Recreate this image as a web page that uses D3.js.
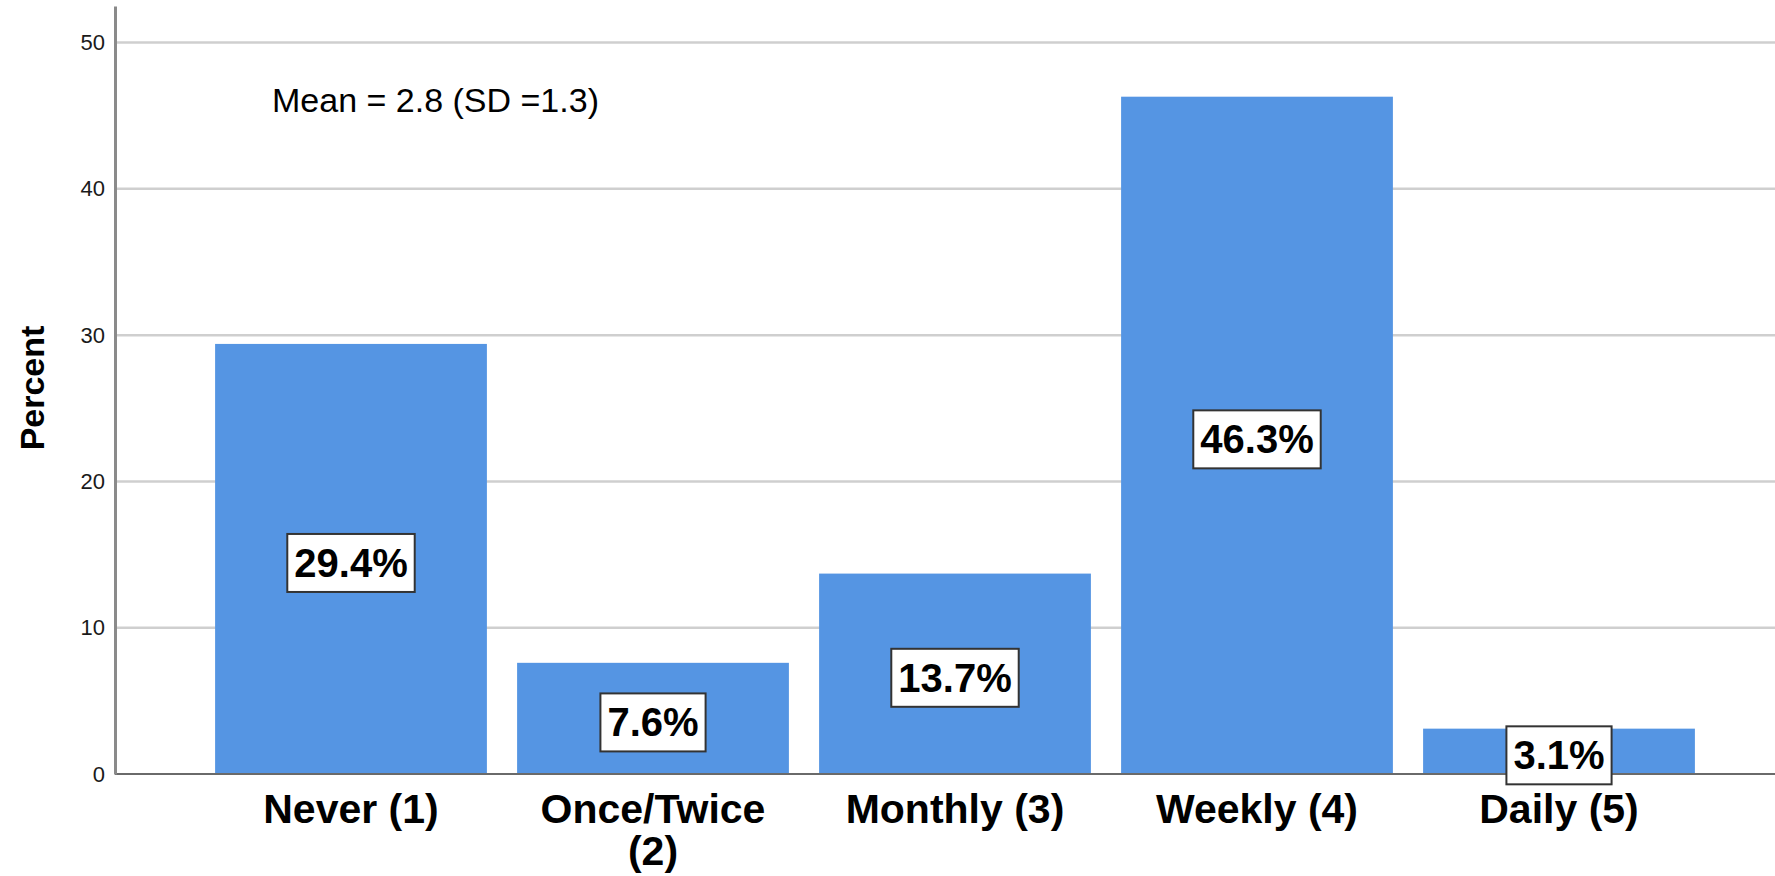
<!DOCTYPE html>
<html>
<head>
<meta charset="utf-8">
<script src="https://cdn.jsdelivr.net/npm/d3@7"></script>
<style>
  html, body { margin: 0; padding: 0; background: #fff; }
  svg { display: block; font-family: "Liberation Sans", Arial, sans-serif; }
</style>
</head>
<body>
<svg id="chart" width="1775" height="876"></svg>
<script>
// Frequency of the behaviour, percent of respondents per response category
const categories = ["Never (1)", "Once/Twice (2)", "Monthly (3)", "Weekly (4)", "Daily (5)"];
const percents = [29.4, 7.6, 13.7, 46.3, 3.1];
const yTicks = [0, 10, 20, 30, 40, 50];
const yTitle = "Percent";
const summaryText = "Mean = 2.8 (SD =1.3)";

const svg = d3.select("#chart");
const W = 1775;
const axisX = 115, baseY = 774, topY = 6;

const x = d3.scaleBand()
  .domain(categories)
  .range([200, 1710])
  .paddingInner(0.1)
  .paddingOuter(0.05);

const y = d3.scaleLinear()
  .domain([0, 52.5])
  .range([baseY, topY]);

// horizontal gridlines
svg.append("g")
  .selectAll("line")
  .data(yTicks.filter(d => d > 0))
  .join("line")
  .attr("x1", axisX)
  .attr("x2", W)
  .attr("y1", d => y(d))
  .attr("y2", d => y(d))
  .attr("stroke", "#cfcfcf")
  .attr("stroke-width", 2.5);

// bars
svg.append("g")
  .selectAll("rect")
  .data(categories)
  .join("rect")
  .attr("x", d => x(d))
  .attr("width", x.bandwidth())
  .attr("y", (d, i) => y(percents[i]))
  .attr("height", (d, i) => y(0) - y(percents[i]))
  .attr("fill", "#5595e3");

// x baseline
svg.append("line")
  .attr("x1", axisX).attr("x2", W)
  .attr("y1", y(0)).attr("y2", y(0))
  .attr("stroke", "#6a6a6a")
  .attr("stroke-width", 2);

// y axis
const yAxis = svg.append("g")
  .attr("transform", `translate(${axisX},0)`)
  .call(d3.axisLeft(y).tickValues(yTicks).tickSize(0).tickPadding(10).tickFormat(d3.format("d")));
yAxis.select(".domain")
  .attr("stroke", "#8a8a8a")
  .attr("stroke-width", 3);
yAxis.selectAll(".tick text")
  .attr("font-family", "Liberation Sans, Arial, sans-serif")
  .attr("font-size", 22)
  .attr("fill", "#1a1a1a");

// y axis title
svg.append("text")
  .attr("transform", "translate(32,388) rotate(-90)")
  .attr("text-anchor", "middle")
  .attr("dominant-baseline", "central")
  .attr("font-size", 34)
  .attr("font-weight", "bold")
  .attr("fill", "#000")
  .text(yTitle);

// category labels, wrapped when wider than a bar
const xLabels = svg.append("g")
  .selectAll("text")
  .data(categories)
  .join("text")
  .attr("x", d => x(d) + x.bandwidth() / 2)
  .attr("y", 823)
  .attr("text-anchor", "middle")
  .attr("font-size", 41)
  .attr("font-weight", "bold")
  .attr("fill", "#000");

xLabels.each(function(d) {
  const t = d3.select(this);
  const cx = +t.attr("x");
  const words = d.split(" ");
  let line = [];
  let tspan = t.append("tspan").attr("x", cx).attr("dy", 0);
  for (const w of words) {
    line.push(w);
    tspan.text(line.join(" "));
    if (tspan.node().getComputedTextLength() > x.bandwidth() && line.length > 1) {
      line.pop();
      tspan.text(line.join(" "));
      line = [w];
      tspan = t.append("tspan").attr("x", cx).attr("dy", 42).text(w);
    }
  }
});

// value labels in boxes at the middle of each bar
const valueFmt = d => d.toFixed(1) + "%";
const labels = svg.append("g")
  .selectAll("g")
  .data(categories)
  .join("g")
  .attr("transform", (d, i) =>
    `translate(${x(d) + x.bandwidth() / 2},${(y(0) + y(percents[i])) / 2 + 4})`);

labels.append("rect")
  .attr("fill", "#fff")
  .attr("stroke", "#333")
  .attr("stroke-width", 2);

labels.append("text")
  .attr("text-anchor", "middle")
  .attr("dominant-baseline", "central")
  .attr("font-size", 40)
  .attr("font-weight", "bold")
  .attr("fill", "#000")
  .text((d, i) => valueFmt(percents[i]));

labels.each(function() {
  const g = d3.select(this);
  const bb = g.select("text").node().getBBox();
  const padX = 7;
  const h = 58;
  g.select("rect")
    .attr("x", bb.x - padX)
    .attr("width", bb.width + 2 * padX)
    .attr("y", -h / 2)
    .attr("height", h);
});

// summary statistics
svg.append("text")
  .attr("x", 272)
  .attr("y", 112)
  .attr("font-size", 34)
  .attr("fill", "#000")
  .text(summaryText);
</script>
</body>
</html>
